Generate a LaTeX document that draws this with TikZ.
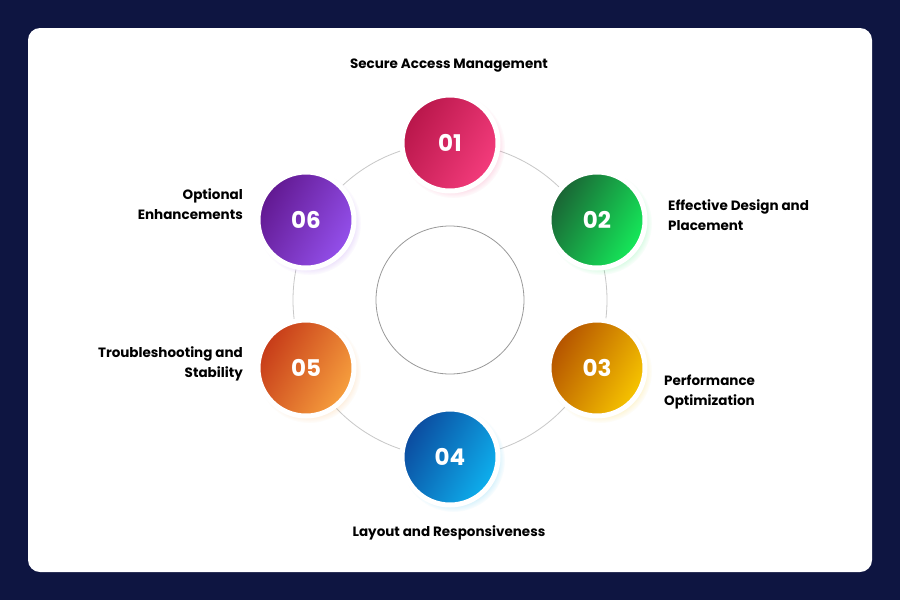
\documentclass[tikz,border=0pt]{standalone}
\usepackage{fontspec}
\setmainfont{Poppins}
\usetikzlibrary{shadows}
\definecolor{navy}{HTML}{0E1541}
\definecolor{ringgray}{HTML}{C8C8C8}
\definecolor{a1}{HTML}{B8164A}\definecolor{b1}{HTML}{F43C7C}
\definecolor{a2}{HTML}{1A6334}\definecolor{b2}{HTML}{15EA5A}
\definecolor{a3}{HTML}{B45200}\definecolor{b3}{HTML}{F7C500}
\definecolor{a4}{HTML}{0C4A9E}\definecolor{b4}{HTML}{0DB0EE}
\definecolor{a5}{HTML}{C63A18}\definecolor{b5}{HTML}{F7A03E}
\definecolor{a6}{HTML}{611890}\definecolor{b6}{HTML}{9450EC}
\begin{document}
\begin{tikzpicture}[x=1pt,y=-1pt,
  bub/.style={circle,minimum size=96pt,inner sep=0pt,draw=white,line width=5pt,
     left color=a#1,right color=b#1,shading angle=60,text=white,font=\bfseries\fontsize{23}{26}\selectfont,
     circular drop shadow={shadow xshift=3pt,shadow yshift=-3pt,opacity=0.18,fill=b#1,shadow scale=1.08}},
  lab/.style={font=\fontsize{13.5}{20}\selectfont\bfseries,text=black,inner sep=0pt}]
\fill[navy] (0,0) rectangle (900,600);
\fill[white,rounded corners=12pt] (28,28) rectangle (872,572);
\draw[ringgray,line width=0.8pt] (450,300) circle (157);
\draw[gray!80,line width=0.8pt] (450,300) circle (74);
\node[bub=1] (n1) at (450,143) {01};
\node[bub=2] (n2) at (597,220) {02};
\node[bub=3] (n3) at (597,368) {03};
\node[bub=4] (n4) at (450,457) {04};
\node[bub=5] (n5) at (306,368) {05};
\node[bub=6] (n6) at (306,220) {06};
\node[lab] (t1) at (449,66) {Secure Access Management};
\node[lab,anchor=west,align=left] (t2) at (668,215) {Effective Design and\\Placement};
\node[lab,anchor=west,align=left] (t3) at (664,392) {Performance\\Optimization};
\node[lab] (t4) at (449,533) {Layout and Responsiveness};
\node[lab,anchor=east,align=right] (t5) at (243,364) {Troubleshooting and\\Stability};
\node[lab,anchor=east,align=right] (t6) at (243,204) {Optional\\Enhancements};
\end{tikzpicture}
\end{document}
